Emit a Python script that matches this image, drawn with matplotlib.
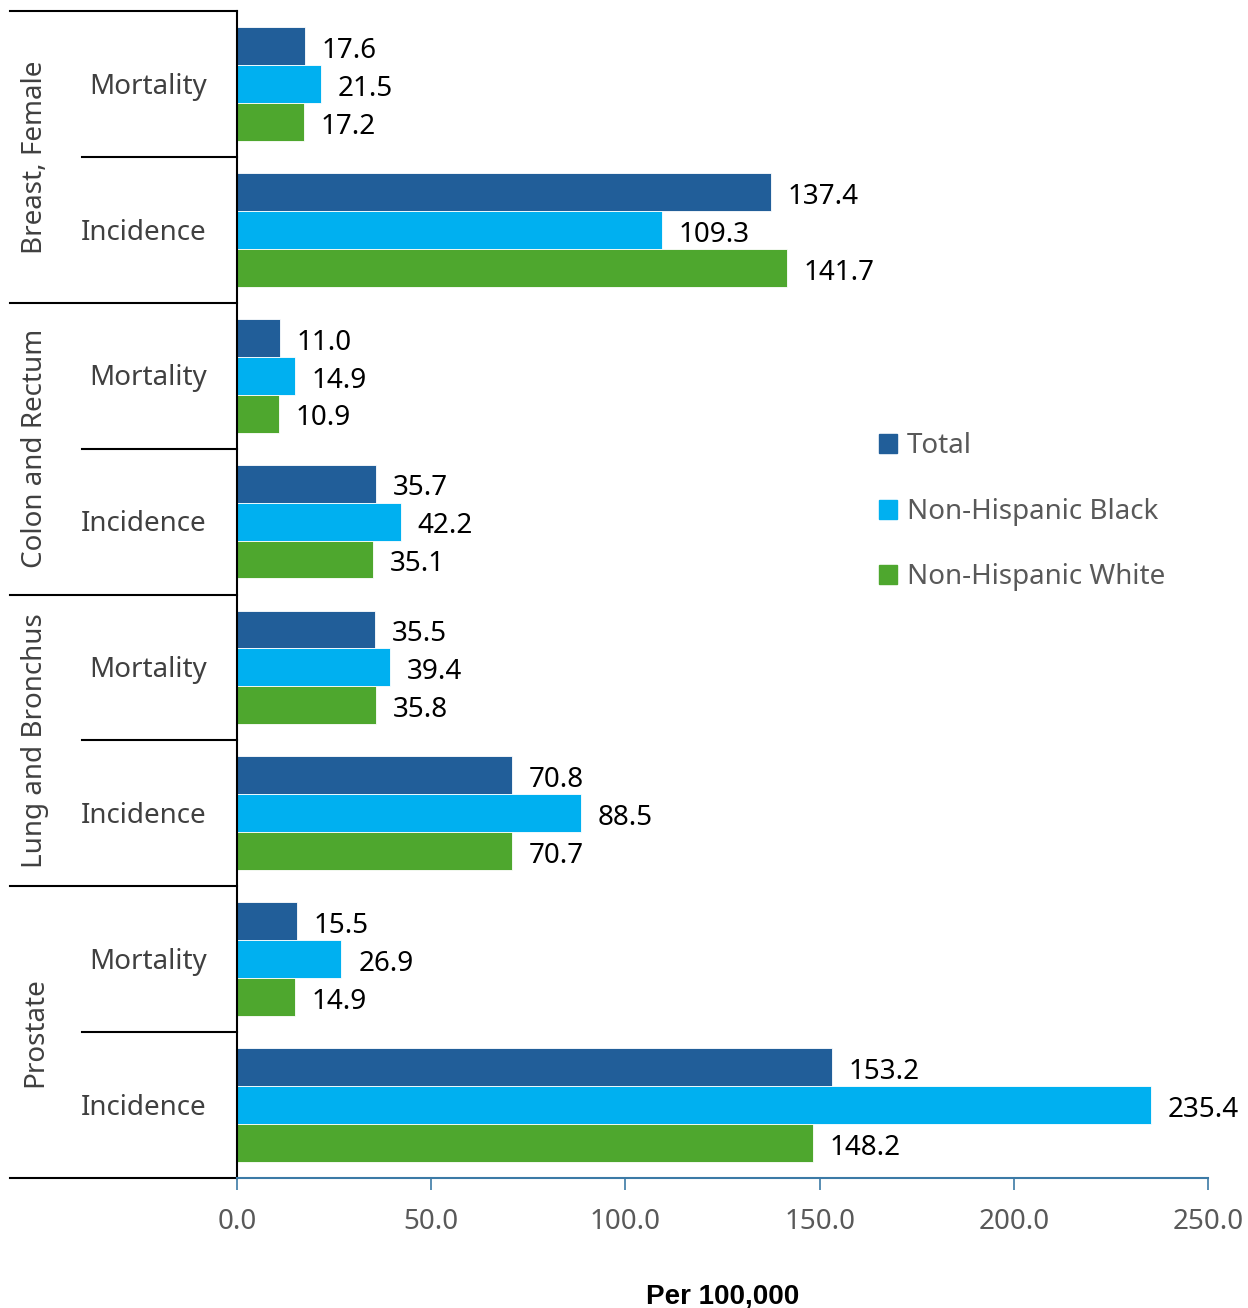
import matplotlib

matplotlib.use("Agg")
import matplotlib.pyplot as plt
from matplotlib.patches import Patch

plt.rcParams["font.family"] = ["Noto Sans", "DejaVu Sans"]

# %% Data
sites = ["Breast, Female", "Colon and Rectum", "Lung and Bronchus", "Prostate"]
measures = ["Mortality", "Incidence"]
series = ["Total", "Non-Hispanic Black", "Non-Hispanic White"]
colors = ["#215E99", "#00B0F0", "#4EA72E"]

# rows top to bottom: site x measure
total = [17.6, 137.4, 11.0, 35.7, 35.5, 70.8, 15.5, 153.2]
black = [21.5, 109.3, 14.9, 42.2, 39.4, 88.5, 26.9, 235.4]
white = [17.2, 141.7, 10.9, 35.1, 35.8, 70.7, 14.9, 148.2]
values = [total, black, white]

xticks = [0, 50, 100, 150, 200, 250]

FS = 20

# %% Figure
W, H = 1248, 1308
fig = plt.figure(figsize=(W / 100, H / 100), dpi=100)
left, right, top, bottom = 237, 1208, 11, 1178
ax = fig.add_axes([left / W, 1 - bottom / H, (right - left) / W, (bottom - top) / H])

n_rows = len(total)
bar_h = 0.26
for j, (vals, c) in enumerate(zip(values, colors)):
    ys = [n_rows - 0.5 - i + (1 - j) * bar_h for i in range(n_rows)]
    ax.barh(ys, vals, height=bar_h, color=c, edgecolor="white", linewidth=0.6, label=series[j])
    for y, v in zip(ys, vals):
        ax.annotate(f"{v:.1f}", (v, y), xytext=(12, -3.5), textcoords="offset points",
                    ha="left", va="center", fontsize=FS, color="black")

ax.set_xlim(0, 250)
ax.set_ylim(0, n_rows)
ax.set_xticks(xticks)
ax.set_xticklabels([f"{t:.1f}" for t in xticks], fontsize=FS, color="#595959")
ax.set_yticks([])
ax.tick_params(axis="x", length=8.6, width=1.2, color="#3C7AA6", pad=13)
for s in ["top", "right"]:
    ax.spines[s].set_visible(False)
ax.spines["left"].set_color("black")
ax.spines["left"].set_linewidth(1.5)
ax.spines["bottom"].set_color("#3C7AA6")
ax.spines["bottom"].set_linewidth(1.5)
ax.set_xlabel("Per 100,000", fontsize=FS, fontweight="bold", family="Liberation Sans",
              labelpad=34)

# grouped category axis on the left
tr = ax.get_yaxis_transform()
x_outer = (10 - left) / (right - left)
x_inner = (82 - left) / (right - left)
for k in range(len(sites) + 1):
    y = n_rows - 2 * k
    ax.plot([x_outer, 0], [y, y], color="black", lw=1.5, transform=tr, clip_on=False)
for k in range(len(sites)):
    y = n_rows - 2 * k - 1
    ax.plot([x_inner, 0], [y, y], color="black", lw=1.5, transform=tr, clip_on=False)

x_site = (35 - left) / (right - left)
x_meas = (207 - left) / (right - left)
for k, site in enumerate(sites):
    ax.text(x_site, n_rows - 2 * k - 1, site, transform=tr, rotation=90,
            ha="center", va="center", fontsize=FS, color="#404040")
    for m, meas in enumerate(measures):
        ax.annotate(meas, (x_meas, n_rows - 2 * k - m - 0.5), xycoords=tr,
                    xytext=(0, -2), textcoords="offset points",
                    ha="right", va="center", fontsize=FS, color="#404040")

handles = [Patch(color=c) for c in colors]
leg = fig.legend(handles, series, loc="center left", bbox_to_anchor=(879 / W, 1 - 512 / H),
                 frameon=False, fontsize=FS, handlelength=0.65, handleheight=0.65,
                 handletextpad=0.35, labelspacing=1.35, borderpad=0, borderaxespad=0)
for t in leg.get_texts():
    t.set_color("#595959")

fig.savefig("out.png", dpi=100)
